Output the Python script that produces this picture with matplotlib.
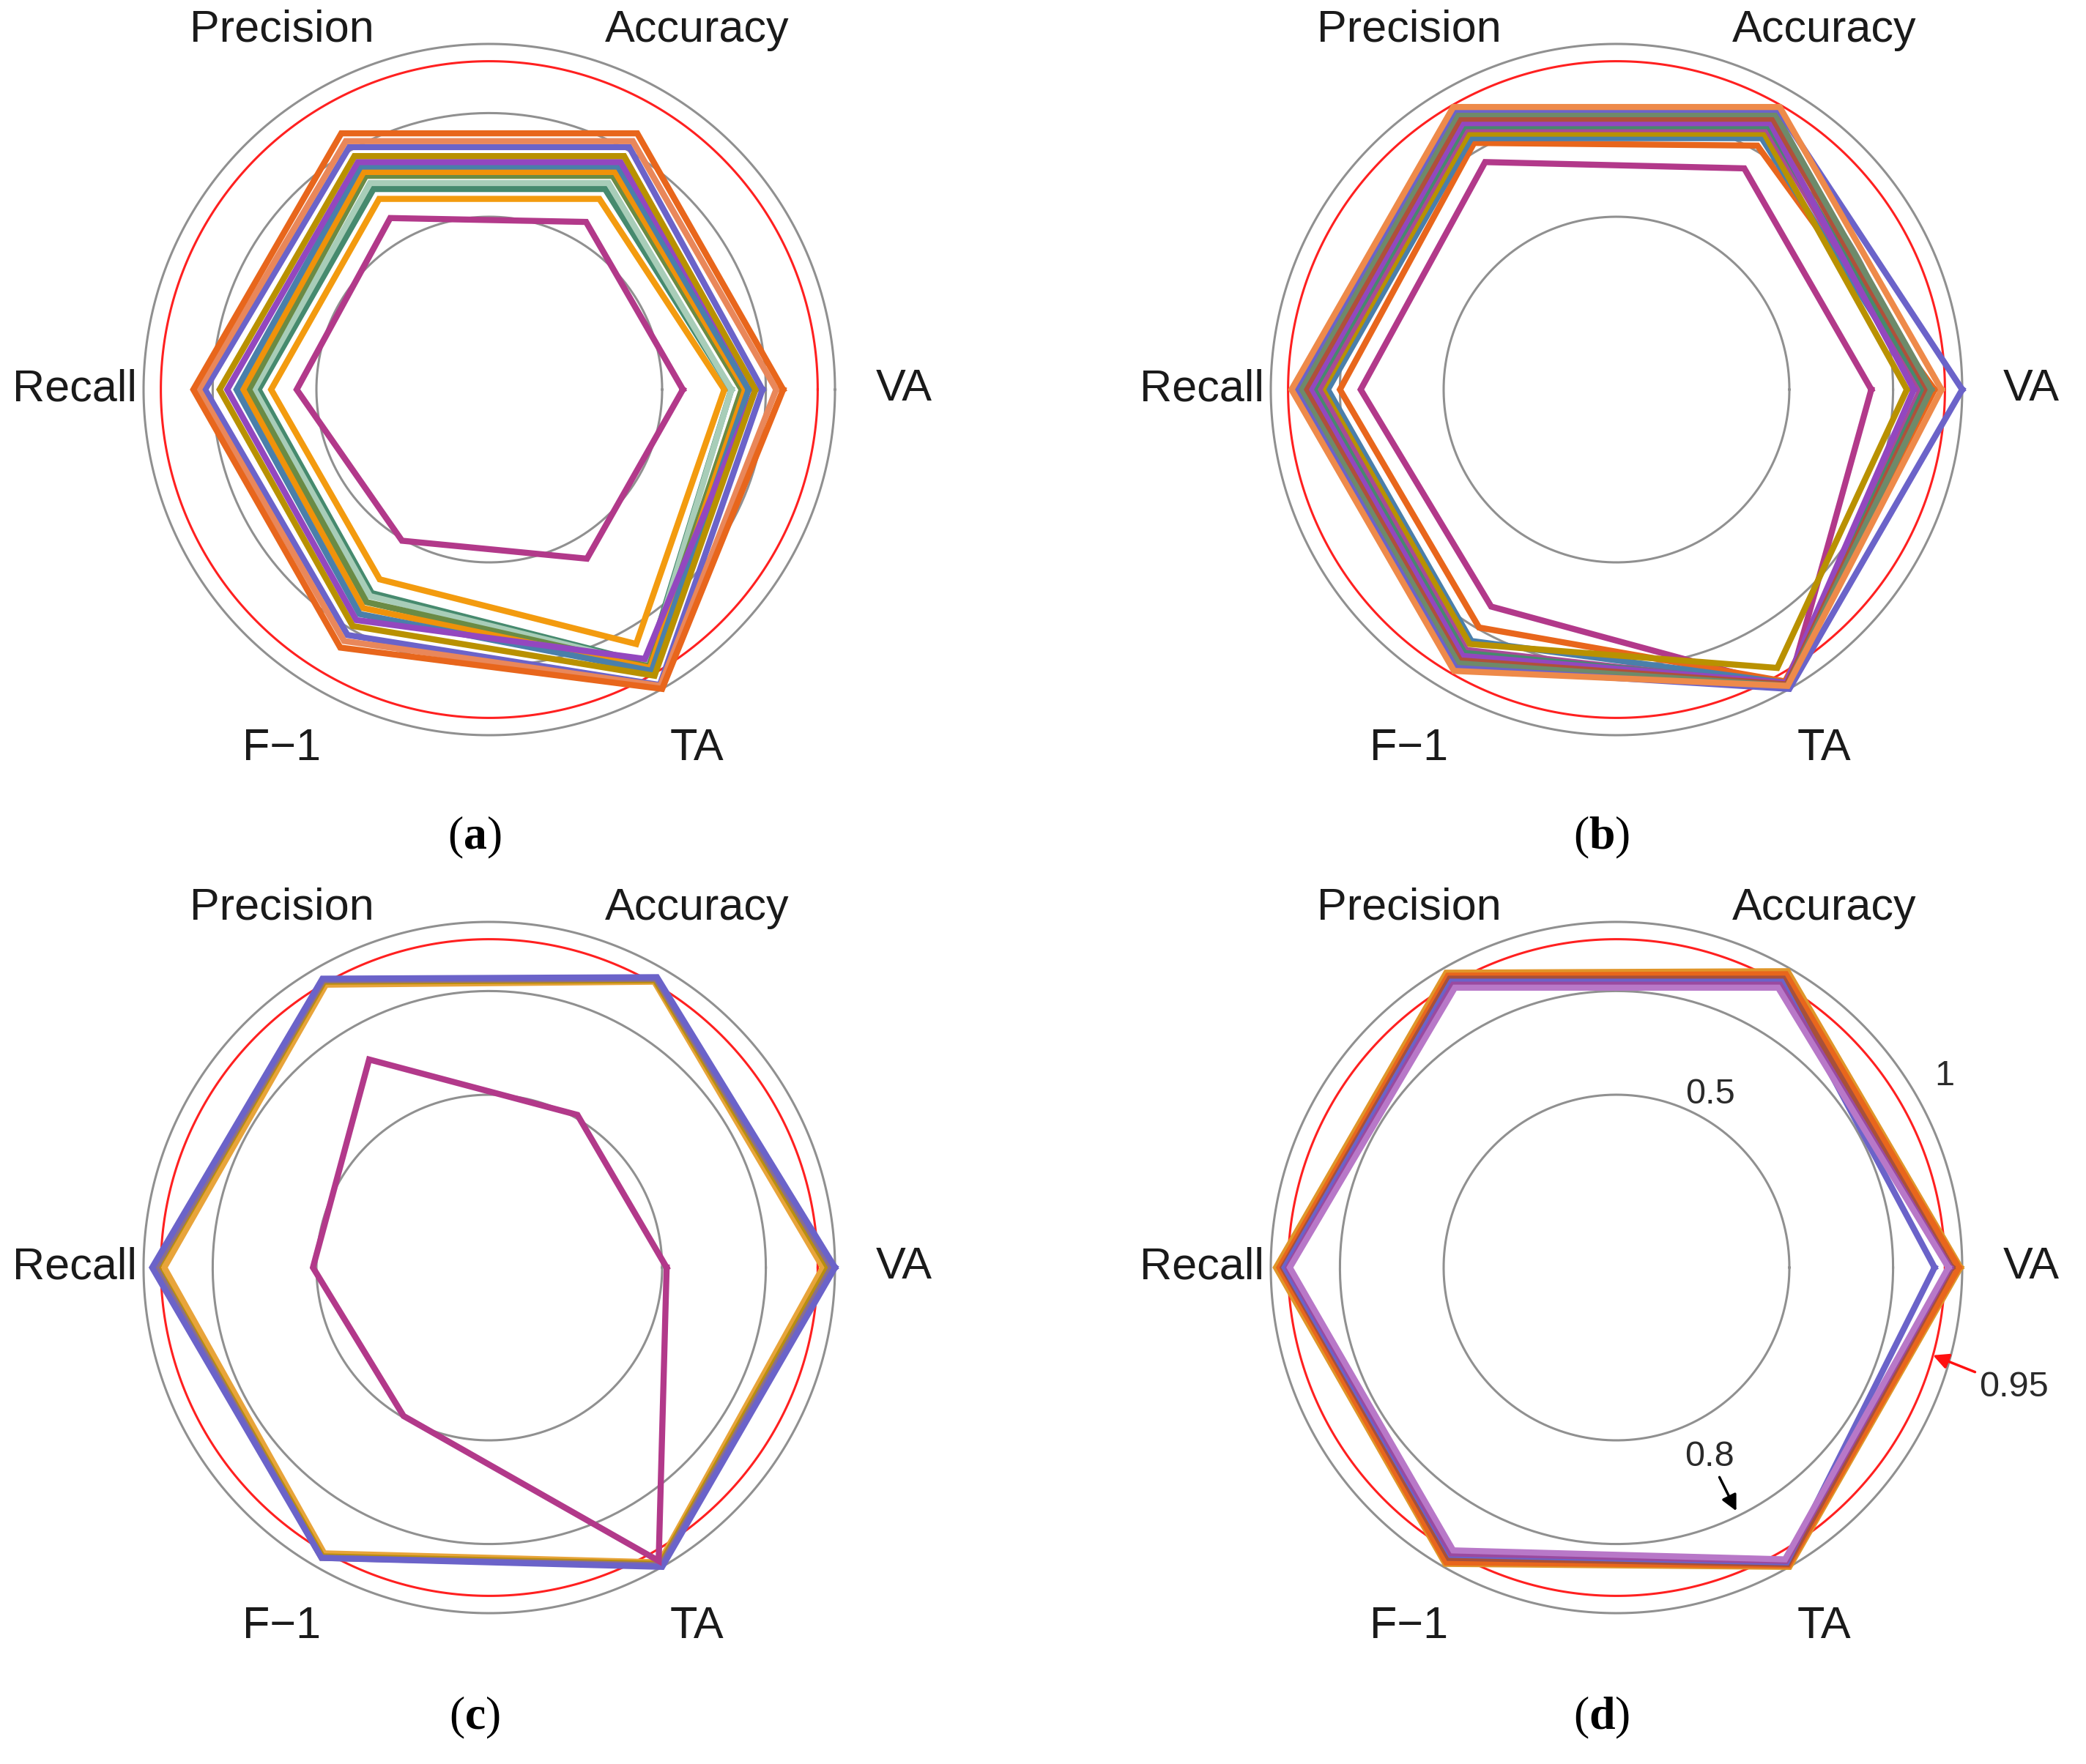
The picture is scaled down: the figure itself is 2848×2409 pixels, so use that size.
import numpy as np
import matplotlib
matplotlib.use("Agg")
import matplotlib.pyplot as plt

plt.rcParams['mathtext.fontset'] = 'custom'
plt.rcParams['mathtext.rm'] = 'Liberation Serif'
plt.rcParams['mathtext.bf'] = 'Liberation Serif:bold'

# ---------------- data ----------------
metrics = ['VA', 'Accuracy', 'Precision', 'Recall', 'F\u22121', 'TA']
metric_angles_deg = [0, 60, 120, 180, 240, 300]
grid_levels = [0.5, 0.8, 0.95, 1.0]
grid_colors = ['#909090', '#909090', '#ff2020', '#909090']
captions = ['a', 'b', 'c', 'd']

# values in metric order: VA, Accuracy, Precision, Recall, F-1, TA
colors_a = ['#e8661c', '#e9875a', '#6b63c9', '#b99100', '#9347bf',
            '#4a7faa', '#f0920a', '#6a8b45', '#a8cdb8', '#468a6e', '#f39b0f', '#b2398a']
values_a = [
    [0.85, 0.856, 0.856, 0.856, 0.862, 1.00],
    [0.83, 0.83, 0.83, 0.84, 0.84, 0.99],
    [0.79, 0.81, 0.81, 0.822, 0.82, 0.987],
    [0.77, 0.78, 0.78, 0.78, 0.79, 0.956],
    [0.77, 0.76, 0.76, 0.758, 0.77, 0.90],
    [0.75, 0.745, 0.745, 0.731, 0.75, 0.94],
    [0.74, 0.727, 0.727, 0.712, 0.73, 0.93],
    [0.73, 0.714, 0.714, 0.695, 0.71, 0.925],
    [0.70, 0.69, 0.69, 0.68, 0.69, 0.92],
    [0.70, 0.67, 0.67, 0.667, 0.68, 0.915],
    [0.68, 0.637, 0.637, 0.631, 0.634, 0.85],
    [0.56, 0.56, 0.573, 0.557, 0.505, 0.565],
]

colors_b = ['#ee8a4a', '#6b63c9', '#6e8a6a', '#b0503a', '#9347bf', '#468a6e',
            '#a84a96', '#b99100', '#4a7faa', '#e8661c', '#b2398a']
values_b = [
    [0.94, 0.944, 0.944, 0.94, 0.94, 0.99],
    [1.00, 0.935, 0.935, 0.93, 0.93, 1.00],
    [0.91, 0.92, 0.92, 0.915, 0.915, 0.99],
    [0.90, 0.905, 0.905, 0.90, 0.905, 0.985],
    [0.86, 0.89, 0.89, 0.885, 0.89, 0.98],
    [0.89, 0.88, 0.88, 0.875, 0.88, 0.985],
    [0.88, 0.87, 0.87, 0.86, 0.87, 0.99],
    [0.84, 0.855, 0.855, 0.85, 0.85, 0.93],
    [0.88, 0.84, 0.84, 0.835, 0.84, 0.98],
    [0.92, 0.815, 0.824, 0.80, 0.795, 0.975],
    [0.737, 0.739, 0.76, 0.74, 0.725, 0.995],
]

colors_c = ['#e8a43a', '#b98e10', '#8a6e8e', '#6b63c9', '#b2398a']
values_c = [
    [0.965, 0.955, 0.945, 0.94, 0.955, 0.985],
    [0.98, 0.96, 0.955, 0.96, 0.965, 0.99],
    [0.99, 0.965, 0.96, 0.965, 0.97, 0.995],
    [1.00, 0.97, 0.965, 0.975, 0.97, 1.00],
    [0.513, 0.51, 0.695, 0.51, 0.496, 0.98],
]

colors_d = ['#e0962a', '#e8661c', '#a8503a', '#6b63c9', '#9a4aa0', '#b878c8']
values_d = [
    [0.995, 0.99, 0.985, 0.985, 0.99, 1.00],
    [0.99, 0.98, 0.975, 0.975, 0.985, 0.995],
    [0.97, 0.965, 0.965, 0.965, 0.97, 0.99],
    [0.92, 0.955, 0.955, 0.96, 0.96, 0.985],
    [0.965, 0.945, 0.945, 0.95, 0.955, 0.98],
    [0.96, 0.935, 0.935, 0.945, 0.945, 0.975],
]

panels = [(colors_a, values_a), (colors_b, values_b),
          (colors_c, values_c), (colors_d, values_d)]
later_on_top = [False, False, True, True]

# ---------------- layout ----------------
W, H = 2848, 2409
fig = plt.figure(figsize=(W / 100, H / 100), dpi=100)
R_PX = 472.0
RMAX = 1.3
S = 2 * RMAX * R_PX
centers = [(668, 532), (2207, 532), (668, 1731), (2207, 1731)]
caption_pos = [(648, 1144), (2187, 1144), (648, 2346), (2187, 2346)]

theta = np.deg2rad(np.array(metric_angles_deg + [metric_angles_deg[0]], dtype=float))
circ = np.linspace(0, 2 * np.pi, 400)

for i, ((cx, cy), (cols, vals)) in enumerate(zip(centers, panels)):
    ax = fig.add_axes([(cx - S / 2) / W, (H - cy - S / 2) / H, S / W, S / H],
                      projection='polar')
    ax.set_ylim(0, RMAX)
    ax.grid(False)
    ax.set_xticks([])
    ax.set_yticks([])
    ax.spines['polar'].set_visible(False)
    ax.patch.set_alpha(0)

    for lev, gc in zip(grid_levels, grid_colors):
        ax.plot(circ, np.full_like(circ, lev), color=gc, lw=2.2, zorder=1)

    n = len(vals)
    for k in range(n):
        v = list(vals[k]) + [vals[k][0]]
        z = 2 + k if later_on_top[i] else 2 + (n - k)
        ax.plot(theta, v, color=cols[k], lw=6.0, zorder=z,
                solid_joinstyle='miter')

    for name, a in zip(metrics, metric_angles_deg):
        ax.text(np.deg2rad(a), 1.2, name, ha='center', va='center',
                fontsize=44, family='Liberation Sans', color='#1a1a1a')

    if i == 3:
        tk = dict(fontsize=35, family='Liberation Sans', color='#2a2a2a',
                  ha='center', va='center')
        ax.text(np.deg2rad(61.6), 0.57, '0.5', zorder=30, **tk)
        ax.text(np.deg2rad(30.3), 1.10, '1', zorder=30, **tk)
        ax.annotate('0.95', xy=(np.deg2rad(-15.5), 0.95),
                    xytext=(np.deg2rad(-16.8), 1.2), zorder=30,
                    arrowprops=dict(arrowstyle='-|>', color='#ff1010', lw=2.5,
                                    mutation_scale=32, shrinkA=2, shrinkB=0),
                    **tk)
        ax.annotate('0.8', xy=(np.deg2rad(-63.8), 0.785),
                    xytext=(np.deg2rad(-63.9), 0.61), zorder=30,
                    arrowprops=dict(arrowstyle='-|>', color='black', lw=2.5,
                                    mutation_scale=32, shrinkA=2, shrinkB=0),
                    **tk)

    px, py = caption_pos[i]
    fig.text(px / W, 1 - py / H, r'$\mathrm{(}\mathbf{%s}\mathrm{)}$' % captions[i],
             ha='center', va='center', fontsize=46, color='black')

fig.savefig('out.png', dpi=100, facecolor='white')
